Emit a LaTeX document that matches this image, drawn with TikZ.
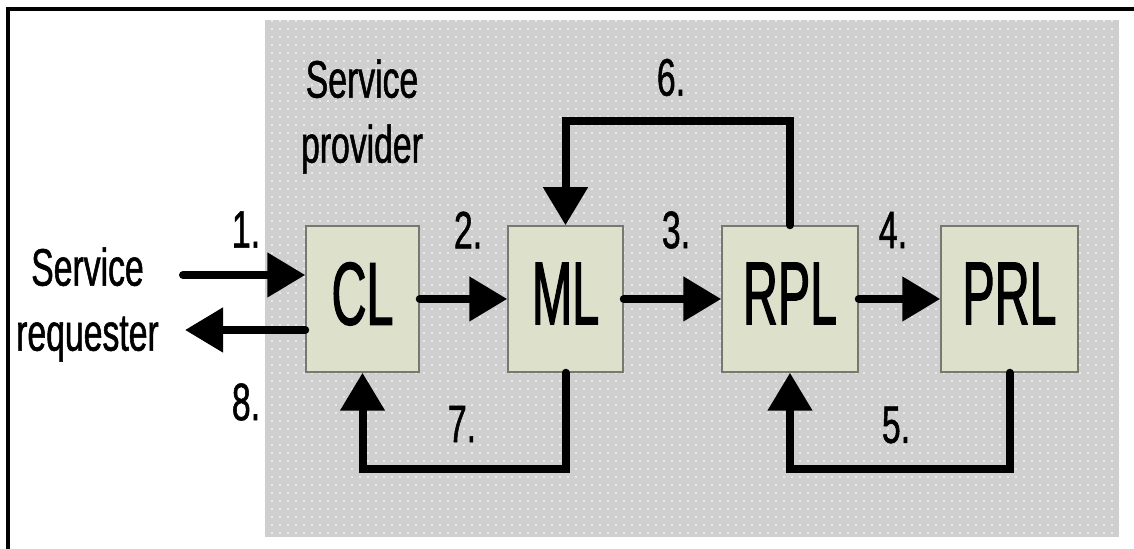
\documentclass[tikz,border=0pt]{standalone}
\usepackage{fontspec}
\newfontfamily\labelfont[FakeStretch=0.64, FakeBold=1]{Liberation Sans}
\newfontfamily\layerfont[FakeStretch=0.54, FakeBold=1.2]{Liberation Sans}
\usepackage{tikz}
\usetikzlibrary{shapes,arrows.meta,patterns.meta}
\definecolor{layerfill}{RGB}{221,224,203}
\definecolor{layerline}{RGB}{120,120,112}
\definecolor{provgray}{RGB}{207,207,207}
\tikzset{%
  layer/.style = {draw=layerline, line width=0.15mm, fill=layerfill, rectangle,
    inner sep=0pt, minimum height=14.6mm, text depth=1.1mm,
    font=\layerfont\fontsize{25.5}{30}\selectfont}, % CL, ML, RPL, PRL
  tag/.style   = {inner sep=0pt, align=center,
    font=\labelfont\fontsize{15}{18.5}\selectfont}, % Labels
  flow/.style  = {line width=0.8mm, line cap=round,
    -{Triangle[length=3.8mm, width=4.3mm]}}, % Message flow
  area/.style  = {pattern={Dots[distance=0.8mm, radius=0.12mm]},
    pattern color=white!75!provgray}
}
\begin{document}
\begin{tikzpicture}[x=1mm, y=1mm, thick]
\useasboundingbox (0,0) rectangle (113.4,54.9);
\draw[line width=0.4mm] (0.8,-1) -- (0.8,53.95) -- (114.5,53.95);
\fill[provgray] (26.5,1.2) rectangle (111.9,52.9);
\fill[area] (26.5,1.2) rectangle (111.9,52.9);
\draw
	node at(36.25,25)[layer, minimum width=11.3mm, name=CL]{CL}
	node at(56.55,25)[layer, minimum width=11.5mm, name=ML]{ML}
	node at(79,25)[layer, minimum width=13.6mm, name=RPL]{RPL}
	node at(100.95,25)[layer, minimum width=13.7mm, name=PRL]{PRL};
\draw
	node at(36.2,43.25)[tag, name=provider]{Service\\provider}
	node at(8.75,24.45)[tag, name=requester]{Service\\requester};
\draw
	node at(24.6,31.95)[tag, name=lab1]{1.}
	node at(46.8,31.9)[tag, name=lab2]{2.}
	node at(67.6,31.9)[tag, name=lab3]{3.}
	node at(89.3,31.9)[tag, name=lab4]{4.}
	node at(89.6,12.4)[tag, name=lab5]{5.}
	node at(67.1,47.15)[tag, name=lab6]{6.}
	node at(46.2,12.5)[tag, name=lab7]{7.}
	node at(24.6,14.7)[tag, name=lab8]{8.};
\coordinate (reqin) at (18.3,27.4);
\coordinate (reqout) at (18.5,21.9);
	\draw[flow](reqin) -- (CL.west |- reqin);
	\draw[flow](CL) -- (ML);
	\draw[flow](ML) -- (RPL);
	\draw[flow](RPL) -- (PRL);
	\draw[flow](PRL.south) -- ++(0,-9.6) -| (RPL.south);
	\draw[flow](RPL.north) -- ++(0,10.4) -| (ML.north);
	\draw[flow](ML.south) -- ++(0,-9.6) -| (CL.south);
	\draw[flow](CL.west |- reqout) -- (reqout);
\end{tikzpicture}
\end{document}
